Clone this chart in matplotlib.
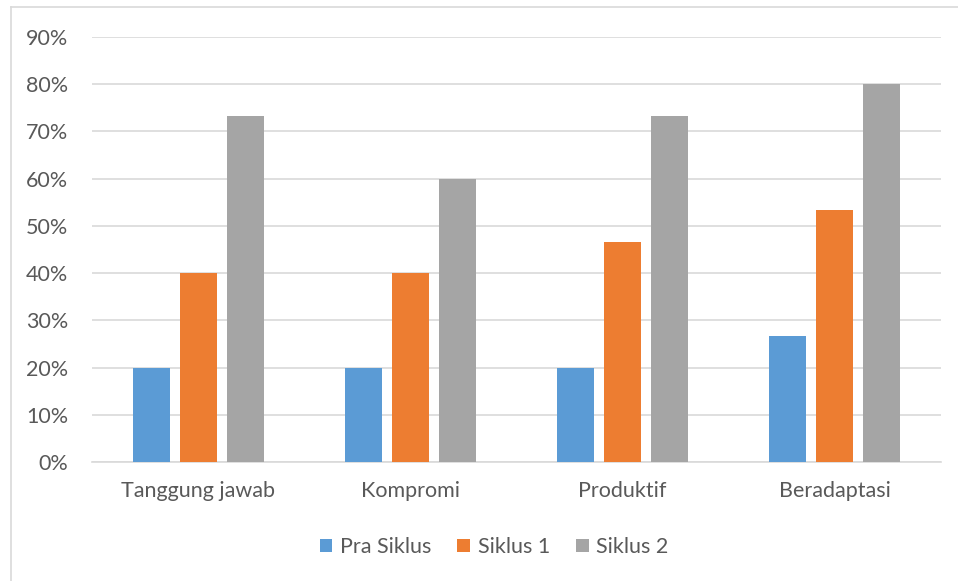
import matplotlib
matplotlib.use("Agg")
import matplotlib.pyplot as plt
from matplotlib.lines import Line2D
import numpy as np

categories = ["Tanggung jawab", "Kompromi", "Produktif", "Beradaptasi"]
series_names = ["Pra Siklus", "Siklus 1", "Siklus 2"]
pra_siklus = [20.0, 20.0, 20.0, 26.67]
siklus_1 = [40.0, 40.0, 46.67, 53.33]
siklus_2 = [73.33, 60.0, 73.33, 80.0]
colors = ["#5B9BD5", "#ED7D31", "#A5A5A5"]
yticks = [0, 10, 20, 30, 40, 50, 60, 70, 80, 90]

plt.rcParams['font.family'] = ['Lato', 'DejaVu Sans']
W, H = 958, 581
fig = plt.figure(figsize=(W / 100, H / 100), dpi=100)
ax = fig.add_axes([92 / W, 1 - 462 / H, (941 - 92) / W, (462 - 37) / H])

x = np.arange(len(categories))
bw = 0.175
off = 0.2214
for i, (vals, name, c) in enumerate(zip([pra_siklus, siklus_1, siklus_2], series_names, colors)):
    ax.bar(x + (i - 1) * off, vals, width=bw, color=c, label=name, zorder=3)

ax.set_xlim(-0.5, len(categories) - 0.5)
ax.set_ylim(0, 90)
ax.set_yticks(yticks)
ax.set_yticklabels([f"{t}%" for t in yticks])
ax.set_xticks(x)
ax.set_xticklabels(categories)
ax.tick_params(axis='both', length=0, labelsize=15.5, colors="#595959")
ax.tick_params(axis='y', pad=17)
ax.tick_params(axis='x', pad=14)
ax.grid(axis='y', color="#D9D9D9", linewidth=1.2, zorder=0)
for s in ['top', 'right', 'left']:
    ax.spines[s].set_visible(False)
ax.spines['bottom'].set_color("#D9D9D9")
ax.spines['bottom'].set_linewidth(1.2)

leg = fig.legend(loc='center', bbox_to_anchor=(494 / W, 1 - 547 / H), ncol=3, frameon=False,
                 fontsize=15.5, handlelength=0.6, handleheight=0.6, handletextpad=0.35,
                 columnspacing=1.2)
for t in leg.get_texts():
    t.set_color("#595959")

# chart border (left and top visible)
fig.add_artist(Line2D([10.5 / W, 10.5 / W], [0, 1 - 7 / H], transform=fig.transFigure,
                      color="#D9D9D9", linewidth=1.2))
fig.add_artist(Line2D([10.5 / W, 1], [1 - 7 / H, 1 - 7 / H], transform=fig.transFigure,
                      color="#D9D9D9", linewidth=1.2))

fig.savefig("out.png", dpi=100)
